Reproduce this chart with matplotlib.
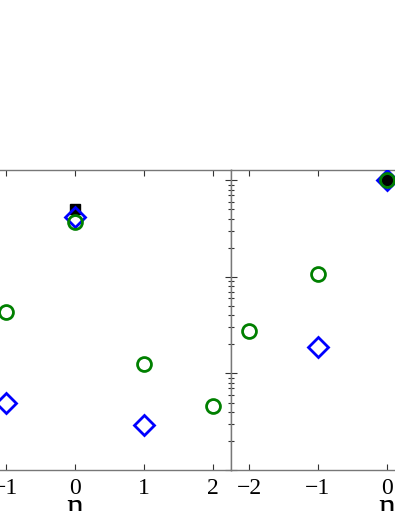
import matplotlib
matplotlib.use('Agg')
import matplotlib.pyplot as plt

plt.rcParams['font.family'] = 'serif'
plt.rcParams['font.serif'] = ['Liberation Serif', 'DejaVu Serif']

# left panel (visible points only)
left_sq_n = [0]
left_sq = [0.50]
left_dia_n = [-1, 0, 1]
left_dia = [0.0049, 0.42, 0.0029]
left_circ_n = [-1, 0, 1, 2]
left_circ = [0.043, 0.37, 0.0124, 0.0046]

# right panel (visible points only)
right_sq_n = [0]
right_sq = [1.0]
right_dia_n = [-1, 0]
right_dia = [0.0188, 1.0]
right_circ_n = [-2, -1, 0]
right_circ = [0.0272, 0.107, 1.0]

xticks = [-2, -1, 0, 1, 2]
xlim = (-2.26, 2.26)
ylim = (1e-3, 1.28)

W, H = 395, 511
fig = plt.figure(figsize=(W / 100, H / 100), dpi=100)
ax1 = fig.add_axes([-81 / W, 41 / H, 312 / W, 300 / H])
ax2 = fig.add_axes([231 / W, 41 / H, 312 / W, 300 / H])

panels = [
    (ax1, left_sq_n, left_sq, left_dia_n, left_dia, left_circ_n, left_circ),
    (ax2, right_sq_n, right_sq, right_dia_n, right_dia, right_circ_n, right_circ),
]

for ax, sqn, sq, dn, d, cn, c in panels:
    ax.plot(sqn, sq, 's', color='black', ms=7, zorder=3)
    ax.plot(dn, d, 'D', mfc='none', mec='blue', mew=2, ms=10, zorder=4)
    ax.plot(cn, c, 'o', mfc='none', mec='green', mew=2, ms=10, zorder=5)
    ax.set_yscale('log')
    ax.set_xlim(xlim)
    ax.set_ylim(ylim)
    ax.set_xticks(xticks)
    ax.set_xticklabels(['\u2212%d' % -t if t < 0 else '%d' % t for t in xticks])
    ax.set_yticklabels([], minor=True)
    ax.set_yticklabels([])
    ax.tick_params(which='both', direction='in', top=True, right=True,
                   color='#333333', labelsize=17, pad=6)
    ax.tick_params(which='major', length=4, width=0.8)
    ax.tick_params(which='minor', length=2.5, width=0.8)
    for sp in ax.spines.values():
        sp.set_color('#777777')
        sp.set_linewidth(1.0)
    ax.set_xlabel('n', fontsize=24, labelpad=-5)

fig.savefig('out.png', dpi=100)
